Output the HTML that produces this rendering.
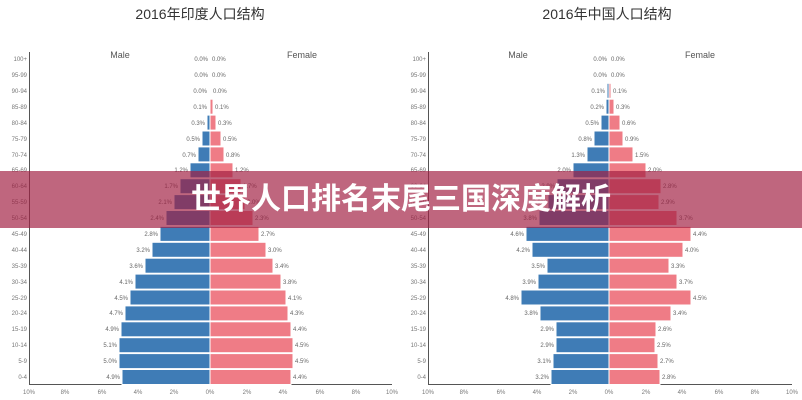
<!DOCTYPE html>
<html><head><meta charset="utf-8"><style>
body{margin:0;width:802px;height:400px;overflow:hidden;background:#fff;font-family:"Liberation Sans","Noto Sans CJK SC",sans-serif}
svg{position:absolute;left:0;top:0}
.b{fill:#3f7cb6}.p{fill:#ef7c86}
.v{font-size:6px;fill:#666}.a{font-size:6px;fill:#777}
.t{font-size:14px;fill:#333}.m{font-size:9px;fill:#555}
#ban{position:absolute;left:0;top:171px;width:802px;height:57px;background:rgba(160,30,65,0.68);color:#fff;font-weight:bold;font-size:30px;text-align:center;line-height:57px;letter-spacing:0px}
</style></head><body>
<svg width="802" height="400" viewBox="0 0 802 400">
<text class="t" x="200" y="19" text-anchor="middle">2016年印度人口结构</text>
<text class="t" x="607" y="19" text-anchor="middle">2016年中国人口结构</text>
<text class="m" x="120" y="58" text-anchor="middle">Male</text>
<text class="m" x="302" y="58" text-anchor="middle">Female</text>
<text class="m" x="518" y="58" text-anchor="middle">Male</text>
<text class="m" x="700" y="58" text-anchor="middle">Female</text>
<g stroke="#555" stroke-width="1" fill="none">
<path d="M29.5 52V384.5H392M428.5 52V384.5H792"/>
</g>
<g stroke="#fff" stroke-width="1">
<g transform="translate(0,90.8)"><rect class="b" x="209" y="-7.5" width="1" height="15"/><rect class="p" x="210" y="-7.5" width="1" height="15"/></g>
<g transform="translate(0,106.7)"><rect class="b" x="209" y="-7.5" width="1" height="15"/><rect class="p" x="210" y="-7.5" width="3" height="15"/></g>
<g transform="translate(0,122.6)"><rect class="b" x="207" y="-7.5" width="3" height="15"/><rect class="p" x="210" y="-7.5" width="6" height="15"/></g>
<g transform="translate(0,138.5)"><rect class="b" x="202" y="-7.5" width="8" height="15"/><rect class="p" x="210" y="-7.5" width="11" height="15"/></g>
<g transform="translate(0,154.4)"><rect class="b" x="198" y="-7.5" width="12" height="15"/><rect class="p" x="210" y="-7.5" width="14" height="15"/></g>
<g transform="translate(0,170.3)"><rect class="b" x="190" y="-7.5" width="20" height="15"/><rect class="p" x="210" y="-7.5" width="23" height="15"/></g>
<g transform="translate(0,186.2)"><rect class="b" x="180" y="-7.5" width="30" height="15"/><rect class="p" x="210" y="-7.5" width="31" height="15"/></g>
<g transform="translate(0,202.1)"><rect class="b" x="174" y="-7.5" width="36" height="15"/><rect class="p" x="210" y="-7.5" width="35" height="15"/></g>
<g transform="translate(0,218)"><rect class="b" x="166" y="-7.5" width="44" height="15"/><rect class="p" x="210" y="-7.5" width="43" height="15"/></g>
<g transform="translate(0,233.9)"><rect class="b" x="160" y="-7.5" width="50" height="15"/><rect class="p" x="210" y="-7.5" width="49" height="15"/></g>
<g transform="translate(0,249.8)"><rect class="b" x="152" y="-7.5" width="58" height="15"/><rect class="p" x="210" y="-7.5" width="56" height="15"/></g>
<g transform="translate(0,265.7)"><rect class="b" x="145" y="-7.5" width="65" height="15"/><rect class="p" x="210" y="-7.5" width="63" height="15"/></g>
<g transform="translate(0,281.6)"><rect class="b" x="135" y="-7.5" width="75" height="15"/><rect class="p" x="210" y="-7.5" width="71" height="15"/></g>
<g transform="translate(0,297.5)"><rect class="b" x="130" y="-7.5" width="80" height="15"/><rect class="p" x="210" y="-7.5" width="76" height="15"/></g>
<g transform="translate(0,313.4)"><rect class="b" x="125" y="-7.5" width="85" height="15"/><rect class="p" x="210" y="-7.5" width="78" height="15"/></g>
<g transform="translate(0,329.3)"><rect class="b" x="121" y="-7.5" width="89" height="15"/><rect class="p" x="210" y="-7.5" width="81" height="15"/></g>
<g transform="translate(0,345.2)"><rect class="b" x="119" y="-7.5" width="91" height="15"/><rect class="p" x="210" y="-7.5" width="83" height="15"/></g>
<g transform="translate(0,361.1)"><rect class="b" x="119" y="-7.5" width="91" height="15"/><rect class="p" x="210" y="-7.5" width="83" height="15"/></g>
<g transform="translate(0,377)"><rect class="b" x="122" y="-7.5" width="88" height="15"/><rect class="p" x="210" y="-7.5" width="81" height="15"/></g>
<g transform="translate(0,90.8)"><rect class="b" x="607" y="-7.5" width="2" height="15"/><rect class="p" x="609" y="-7.5" width="2" height="15"/></g>
<g transform="translate(0,106.7)"><rect class="b" x="606" y="-7.5" width="3" height="15"/><rect class="p" x="609" y="-7.5" width="5" height="15"/></g>
<g transform="translate(0,122.6)"><rect class="b" x="601" y="-7.5" width="8" height="15"/><rect class="p" x="609" y="-7.5" width="11" height="15"/></g>
<g transform="translate(0,138.5)"><rect class="b" x="594" y="-7.5" width="15" height="15"/><rect class="p" x="609" y="-7.5" width="14" height="15"/></g>
<g transform="translate(0,154.4)"><rect class="b" x="587" y="-7.5" width="22" height="15"/><rect class="p" x="609" y="-7.5" width="24" height="15"/></g>
<g transform="translate(0,170.3)"><rect class="b" x="573" y="-7.5" width="36" height="15"/><rect class="p" x="609" y="-7.5" width="37" height="15"/></g>
<g transform="translate(0,186.2)"><rect class="b" x="557" y="-7.5" width="52" height="15"/><rect class="p" x="609" y="-7.5" width="52" height="15"/></g>
<g transform="translate(0,202.1)"><rect class="b" x="548" y="-7.5" width="61" height="15"/><rect class="p" x="609" y="-7.5" width="50" height="15"/></g>
<g transform="translate(0,218)"><rect class="b" x="539" y="-7.5" width="70" height="15"/><rect class="p" x="609" y="-7.5" width="68" height="15"/></g>
<g transform="translate(0,233.9)"><rect class="b" x="526" y="-7.5" width="83" height="15"/><rect class="p" x="609" y="-7.5" width="82" height="15"/></g>
<g transform="translate(0,249.8)"><rect class="b" x="532" y="-7.5" width="77" height="15"/><rect class="p" x="609" y="-7.5" width="74" height="15"/></g>
<g transform="translate(0,265.7)"><rect class="b" x="547" y="-7.5" width="62" height="15"/><rect class="p" x="609" y="-7.5" width="60" height="15"/></g>
<g transform="translate(0,281.6)"><rect class="b" x="538" y="-7.5" width="71" height="15"/><rect class="p" x="609" y="-7.5" width="68" height="15"/></g>
<g transform="translate(0,297.5)"><rect class="b" x="521" y="-7.5" width="88" height="15"/><rect class="p" x="609" y="-7.5" width="82" height="15"/></g>
<g transform="translate(0,313.4)"><rect class="b" x="540" y="-7.5" width="69" height="15"/><rect class="p" x="609" y="-7.5" width="62" height="15"/></g>
<g transform="translate(0,329.3)"><rect class="b" x="556" y="-7.5" width="53" height="15"/><rect class="p" x="609" y="-7.5" width="47" height="15"/></g>
<g transform="translate(0,345.2)"><rect class="b" x="556" y="-7.5" width="53" height="15"/><rect class="p" x="609" y="-7.5" width="46" height="15"/></g>
<g transform="translate(0,361.1)"><rect class="b" x="553" y="-7.5" width="56" height="15"/><rect class="p" x="609" y="-7.5" width="49" height="15"/></g>
<g transform="translate(0,377)"><rect class="b" x="551" y="-7.5" width="58" height="15"/><rect class="p" x="609" y="-7.5" width="51" height="15"/></g>
</g>
<g class="a" text-anchor="end">
<text x="27" y="61">100+</text><text x="27" y="77">95-99</text><text x="27" y="93">90-94</text><text x="27" y="109">85-89</text><text x="27" y="125">80-84</text><text x="27" y="141">75-79</text><text x="27" y="157">70-74</text><text x="27" y="172">65-69</text><text x="27" y="188">60-64</text><text x="27" y="204">55-59</text><text x="27" y="220">50-54</text><text x="27" y="236">45-49</text><text x="27" y="252">40-44</text><text x="27" y="268">35-39</text><text x="27" y="284">30-34</text><text x="27" y="300">25-29</text><text x="27" y="315">20-24</text><text x="27" y="331">15-19</text><text x="27" y="347">10-14</text><text x="27" y="363">5-9</text><text x="27" y="379">0-4</text>
<text x="426" y="61">100+</text><text x="426" y="77">95-99</text><text x="426" y="93">90-94</text><text x="426" y="109">85-89</text><text x="426" y="125">80-84</text><text x="426" y="141">75-79</text><text x="426" y="157">70-74</text><text x="426" y="172">65-69</text><text x="426" y="188">60-64</text><text x="426" y="204">55-59</text><text x="426" y="220">50-54</text><text x="426" y="236">45-49</text><text x="426" y="252">40-44</text><text x="426" y="268">35-39</text><text x="426" y="284">30-34</text><text x="426" y="300">25-29</text><text x="426" y="315">20-24</text><text x="426" y="331">15-19</text><text x="426" y="347">10-14</text><text x="426" y="363">5-9</text><text x="426" y="379">0-4</text>
</g>
<g class="v" text-anchor="end">
<text x="208" y="61">0.0%</text><text x="208" y="77">0.0%</text><text x="207" y="93">0.0%</text><text x="207" y="109">0.1%</text><text x="205" y="125">0.3%</text><text x="200" y="141">0.5%</text><text x="196" y="157">0.7%</text><text x="188" y="172">1.2%</text><text x="178" y="188">1.7%</text><text x="172" y="204">2.1%</text><text x="164" y="220">2.4%</text><text x="158" y="236">2.8%</text><text x="150" y="252">3.2%</text><text x="143" y="268">3.6%</text><text x="133" y="284">4.1%</text><text x="128" y="300">4.5%</text><text x="123" y="315">4.7%</text><text x="119" y="331">4.9%</text><text x="117" y="347">5.1%</text><text x="117" y="363">5.0%</text><text x="120" y="379">4.9%</text>
<text x="607" y="61">0.0%</text><text x="607" y="77">0.0%</text><text x="605" y="93">0.1%</text><text x="604" y="109">0.2%</text><text x="599" y="125">0.5%</text><text x="592" y="141">0.8%</text><text x="585" y="157">1.3%</text><text x="571" y="172">2.0%</text><text x="555" y="188">2.9%</text><text x="546" y="204">3.0%</text><text x="537" y="220">3.8%</text><text x="524" y="236">4.6%</text><text x="530" y="252">4.2%</text><text x="545" y="268">3.5%</text><text x="536" y="284">3.9%</text><text x="519" y="300">4.8%</text><text x="538" y="315">3.8%</text><text x="554" y="331">2.9%</text><text x="554" y="347">2.9%</text><text x="551" y="363">3.1%</text><text x="549" y="379">3.2%</text>
</g>
<g class="v">
<text x="212" y="61">0.0%</text><text x="212" y="77">0.0%</text><text x="213" y="93">0.0%</text><text x="215" y="109">0.1%</text><text x="218" y="125">0.3%</text><text x="223" y="141">0.5%</text><text x="226" y="157">0.8%</text><text x="235" y="172">1.2%</text><text x="243" y="188">1.7%</text><text x="247" y="204">2.0%</text><text x="255" y="220">2.3%</text><text x="261" y="236">2.7%</text><text x="268" y="252">3.0%</text><text x="275" y="268">3.4%</text><text x="283" y="284">3.8%</text><text x="288" y="300">4.1%</text><text x="290" y="315">4.3%</text><text x="293" y="331">4.4%</text><text x="295" y="347">4.5%</text><text x="295" y="363">4.5%</text><text x="293" y="379">4.4%</text>
<text x="611" y="61">0.0%</text><text x="611" y="77">0.0%</text><text x="613" y="93">0.1%</text><text x="616" y="109">0.3%</text><text x="622" y="125">0.6%</text><text x="625" y="141">0.9%</text><text x="635" y="157">1.5%</text><text x="648" y="172">2.0%</text><text x="663" y="188">2.8%</text><text x="661" y="204">2.9%</text><text x="679" y="220">3.7%</text><text x="693" y="236">4.4%</text><text x="685" y="252">4.0%</text><text x="671" y="268">3.3%</text><text x="679" y="284">3.7%</text><text x="693" y="300">4.5%</text><text x="673" y="315">3.4%</text><text x="658" y="331">2.6%</text><text x="657" y="347">2.5%</text><text x="660" y="363">2.7%</text><text x="662" y="379">2.8%</text>
</g>
<g class="a" text-anchor="middle">
<text x="29" y="394">10%</text><text x="65" y="394">8%</text><text x="102" y="394">6%</text><text x="138" y="394">4%</text><text x="174" y="394">2%</text><text x="210" y="394">0%</text><text x="247" y="394">2%</text><text x="283" y="394">4%</text><text x="320" y="394">6%</text><text x="356" y="394">8%</text><text x="392" y="394">10%</text>
<text x="428" y="394">10%</text><text x="464" y="394">8%</text><text x="501" y="394">6%</text><text x="537" y="394">4%</text><text x="573" y="394">2%</text><text x="609" y="394">0%</text><text x="646" y="394">2%</text><text x="682" y="394">4%</text><text x="719" y="394">6%</text><text x="755" y="394">8%</text><text x="792" y="394">10%</text>
</g>
</svg>
<div id="ban">世界人口排名末尾三国深度解析</div>
</body></html>
